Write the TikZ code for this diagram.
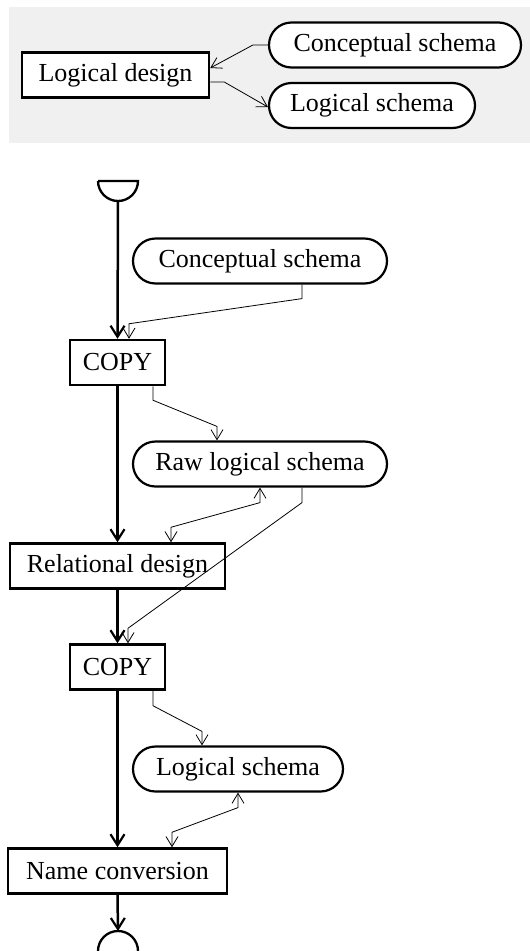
\documentclass[tikz,border=0pt]{standalone}
\usepackage{fontspec}
\setmainfont{Liberation Serif}
\usetikzlibrary{arrows.meta}
\definecolor{panelgray}{HTML}{F0F0F0}
\tikzset{
  every node/.style={font=\fontsize{26}{30}\selectfont, inner sep=0pt},
  procbox/.style={draw, line width=2.5pt, fill=white, minimum height=45pt},
  pill/.style={draw, line width=2.2pt, fill=white, rounded corners=22.5pt, minimum height=45pt},
  flow/.style={line width=2.5pt, -{Straight Barb[length=11pt,width=14pt,line width=2.2pt]}},
  data/.style={line width=0.8pt, -{Straight Barb[length=10pt,width=12pt,line width=0.8pt]}},
  biddata/.style={line width=0.8pt, {Straight Barb[length=10pt,width=12pt,line width=0.8pt]}-{Straight Barb[length=10pt,width=12pt,line width=0.8pt]}},
  terminal/.style={line width=2.3pt}
}
\begin{document}
\begin{tikzpicture}[x=1pt,y=-1pt]
\useasboundingbox (0,0) rectangle (530,951);
% top panel
\fill[panelgray] (9,7) rectangle (530,143);
\node[procbox, minimum width=187pt] (ld) at (115.5,75) {Logical design};
\node[pill, minimum width=252pt] (cs1) at (395,45) {Conceptual schema};
\node[pill, minimum width=206pt] (ls1) at (372,105.5) {Logical schema};
\draw[data] (cs1.west) -- ++(-15,0) -- ([yshift=7pt]ld.east);
\draw[data] ([yshift=-7pt]ld.east) -- ++(14,0) -- ([yshift=-1.5pt]ls1.west);

% flow
\coordinate (startL) at (98,181);
\coordinate (startB) at (118,201);
\draw[terminal] (startL) -- ++(40,0) arc[start angle=0, end angle=-180, radius=20pt];
\coordinate (endL) at (98,951);
\coordinate (endT) at (118,931);
\draw[terminal] (endL) arc[start angle=180, end angle=0, radius=20pt];

\node[pill, minimum width=254pt] (cs2) at (260,261) {Conceptual schema};
\node[procbox, minimum width=95pt] (copy1) at (117.5,362.5) {COPY};
\node[pill, minimum width=254pt] (raw) at (260,464) {Raw logical schema};
\node[procbox, minimum width=215pt] (rel) at (117.5,566) {Relational design};
\node[procbox, minimum width=95pt] (copy2) at (117.5,667) {COPY};
\node[pill, minimum width=210pt] (ls2) at (238,769) {Logical schema};
\node[procbox, minimum width=219pt] (nc) at (117.5,871) {Name conversion};

\draw[flow] (startB) -- (copy1.north);
\draw[flow] (copy1.south) -- (rel.north);
\draw[flow] (rel.south) -- (copy2.north);
\draw[flow] (copy2.south) -- (nc.north);
\draw[flow] (nc.south) -- (endT);

\draw[data] ([xshift=42pt]cs2.south) -- ++(0,14) -- ([xshift=11.5pt,yshift=15pt]copy1.north) -- ([xshift=11.5pt]copy1.north);
\draw[data] ([xshift=35.5pt]copy1.south) -- ++(0,14) -- ([xshift=-43pt,yshift=14pt]raw.north) -- ([xshift=-43pt]raw.north);
\draw[biddata] (raw.south) -- ++(0,15) -- ([xshift=53.5pt,yshift=15pt]rel.north) -- ([xshift=53.5pt]rel.north);
\draw[data] ([xshift=42pt]raw.south) -- ++(0,15) -- ([xshift=10.5pt,yshift=15pt]copy2.north) -- ([xshift=10.5pt]copy2.north);
\draw[data] ([xshift=35.5pt]copy2.south) -- ++(0,15) -- ([xshift=-36pt,yshift=14pt]ls2.north) -- ([xshift=-36pt]ls2.north);
\draw[biddata] (ls2.south) -- ++(0,15) -- ([xshift=54.5pt,yshift=15pt]nc.north) -- ([xshift=54.5pt]nc.north);
\end{tikzpicture}
\end{document}
